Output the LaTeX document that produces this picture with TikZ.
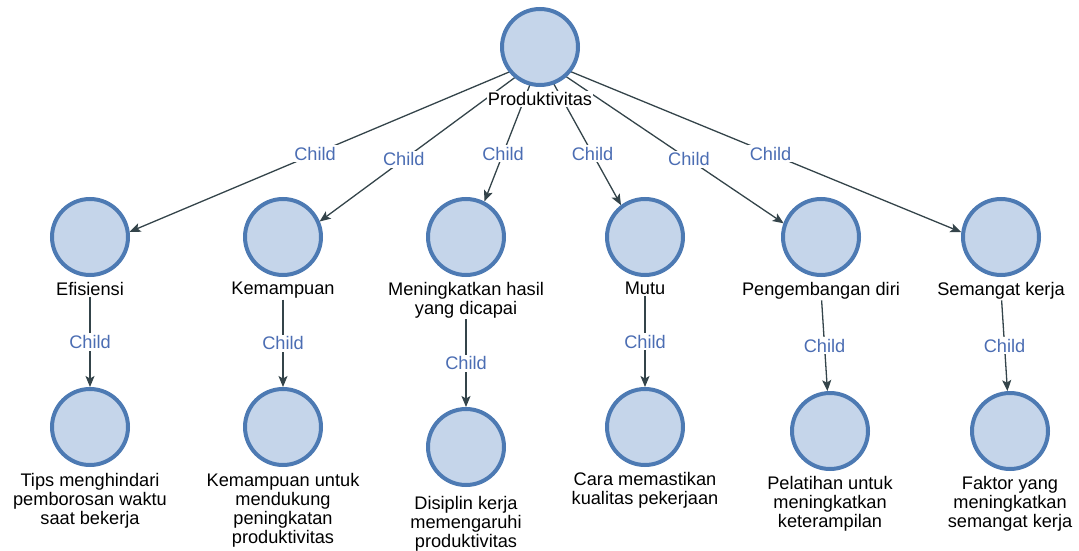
\documentclass[tikz,border=0pt]{standalone}
\usepackage{fontspec}
\setmainfont{Liberation Sans}
\usetikzlibrary{positioning,arrows.meta,backgrounds}
\definecolor{ringblue}{HTML}{4D7AB3}
\definecolor{fillblue}{HTML}{C5D5EA}
\definecolor{edgegray}{HTML}{34444A}
\definecolor{childblue}{HTML}{4B6DB3}
\tikzset{
  circ/.style={circle,draw=ringblue,fill=fillblue,line width=4pt,minimum size=76pt,inner sep=0pt},
  lbl/.style={fill=white,inner sep=1pt,align=center,text=black},
  chd/.style={fill=white,inner sep=2pt,text=childblue},
  edge/.style={draw=edgegray,line width=1.3pt,-{Stealth[length=11pt,width=9pt,inset=2.5pt]}},
}

\begin{document}
\begin{tikzpicture}[x=1pt,y=-1pt,font=\fontsize{18.2}{19}\selectfont,node distance=4pt]
\useasboundingbox (0,0) rectangle (1079,551);
% root
\node[circ] (p0) at (540,47) {};
\node[lbl,below=of p0] (p0t) {Produktivitas};
% second row
\node[circ] (e1) at (90,237) {};
\node[lbl,below=of e1] (e1t) {Efisiensi};
\node[circ] (e2) at (283,237) {};
\node[lbl,below=of e2] (e2t) {Kemampuan};
\node[circ] (e3) at (466,237) {};
\node[lbl,below=of e3] (e3t) {Meningkatkan hasil\\yang dicapai};
\node[circ] (e4) at (645,237) {};
\node[lbl,below=of e4] (e4t) {Mutu};
\node[circ] (e5) at (821,237) {};
\node[lbl,below=of e5] (e5t) {Pengembangan diri};
\node[circ] (e6) at (1001,237) {};
\node[lbl,below=of e6] (e6t) {Semangat kerja};
% third row
\node[circ] (f1) at (90,427) {};
\node[lbl,below=5pt of f1] (f1t) {Tips menghindari\\pemborosan waktu\\saat bekerja};
\node[circ] (f2) at (283,427) {};
\node[lbl,below=5pt of f2] (f2t) {Kemampuan untuk\\mendukung\\peningkatan\\produktivitas};
\node[circ] (f3) at (466,447) {};
\node[lbl,below=8pt of f3] (f3t) {Disiplin kerja\\memengaruhi\\produktivitas};
\node[circ] (f4) at (645,427) {};
\node[lbl,below=of f4] (f4t) {Cara memastikan\\kualitas pekerjaan};
\node[circ] (f5) at (830,431) {};
\node[lbl,below=of f5] (f5t) {Pelatihan untuk\\meningkatkan\\keterampilan};
\node[circ] (f6) at (1010,431) {};
\node[lbl,below=of f6] (f6t) {Faktor yang\\meningkatkan\\semangat kerja};
% centres of circle + caption
\coordinate (p0c) at ([yshift=-12pt]p0.center);
\coordinate (e1c) at ([yshift=-11.5pt]e1.center);
\coordinate (e2c) at ([yshift=-11.5pt]e2.center);
\coordinate (e3c) at ([yshift=-11.5pt]e3.center);
\coordinate (e4c) at ([yshift=-11.5pt]e4.center);
\coordinate (e5c) at ([yshift=-11.5pt]e5.center);
\coordinate (e6c) at ([yshift=-11.5pt]e6.center);
\begin{scope}[on background layer]
\draw[edge,shorten >=43pt] (p0c) -- node[chd] {Child} (e1c);
\draw[edge,shorten >=45.5pt] (p0c) -- node[chd,pos=0.53] {Child} (e2c);
\draw[edge,shorten >=50.5pt] (p0c) -- node[chd] {Child} (e3c);
\draw[edge,shorten >=49.5pt] (p0c) -- node[chd] {Child} (e4c);
\draw[edge,shorten >=45pt] (p0c) -- node[chd,pos=0.53] {Child} (e5c);
\draw[edge,shorten >=43pt] (p0c) -- node[chd] {Child} (e6c);
\end{scope}
% second row to third row
\draw[edge] (e1t) -- node[chd] {Child} (f1);
\draw[edge] (e2t) -- node[chd] {Child} (f2);
\draw[edge] (e3t) -- node[chd] {Child} (f3);
\draw[edge] (e4t) -- node[chd] {Child} (f4);
\draw[edge] (e5t) -- node[chd] {Child} (f5);
\draw[edge] (e6t) -- node[chd] {Child} (f6);
\end{tikzpicture}
\end{document}
